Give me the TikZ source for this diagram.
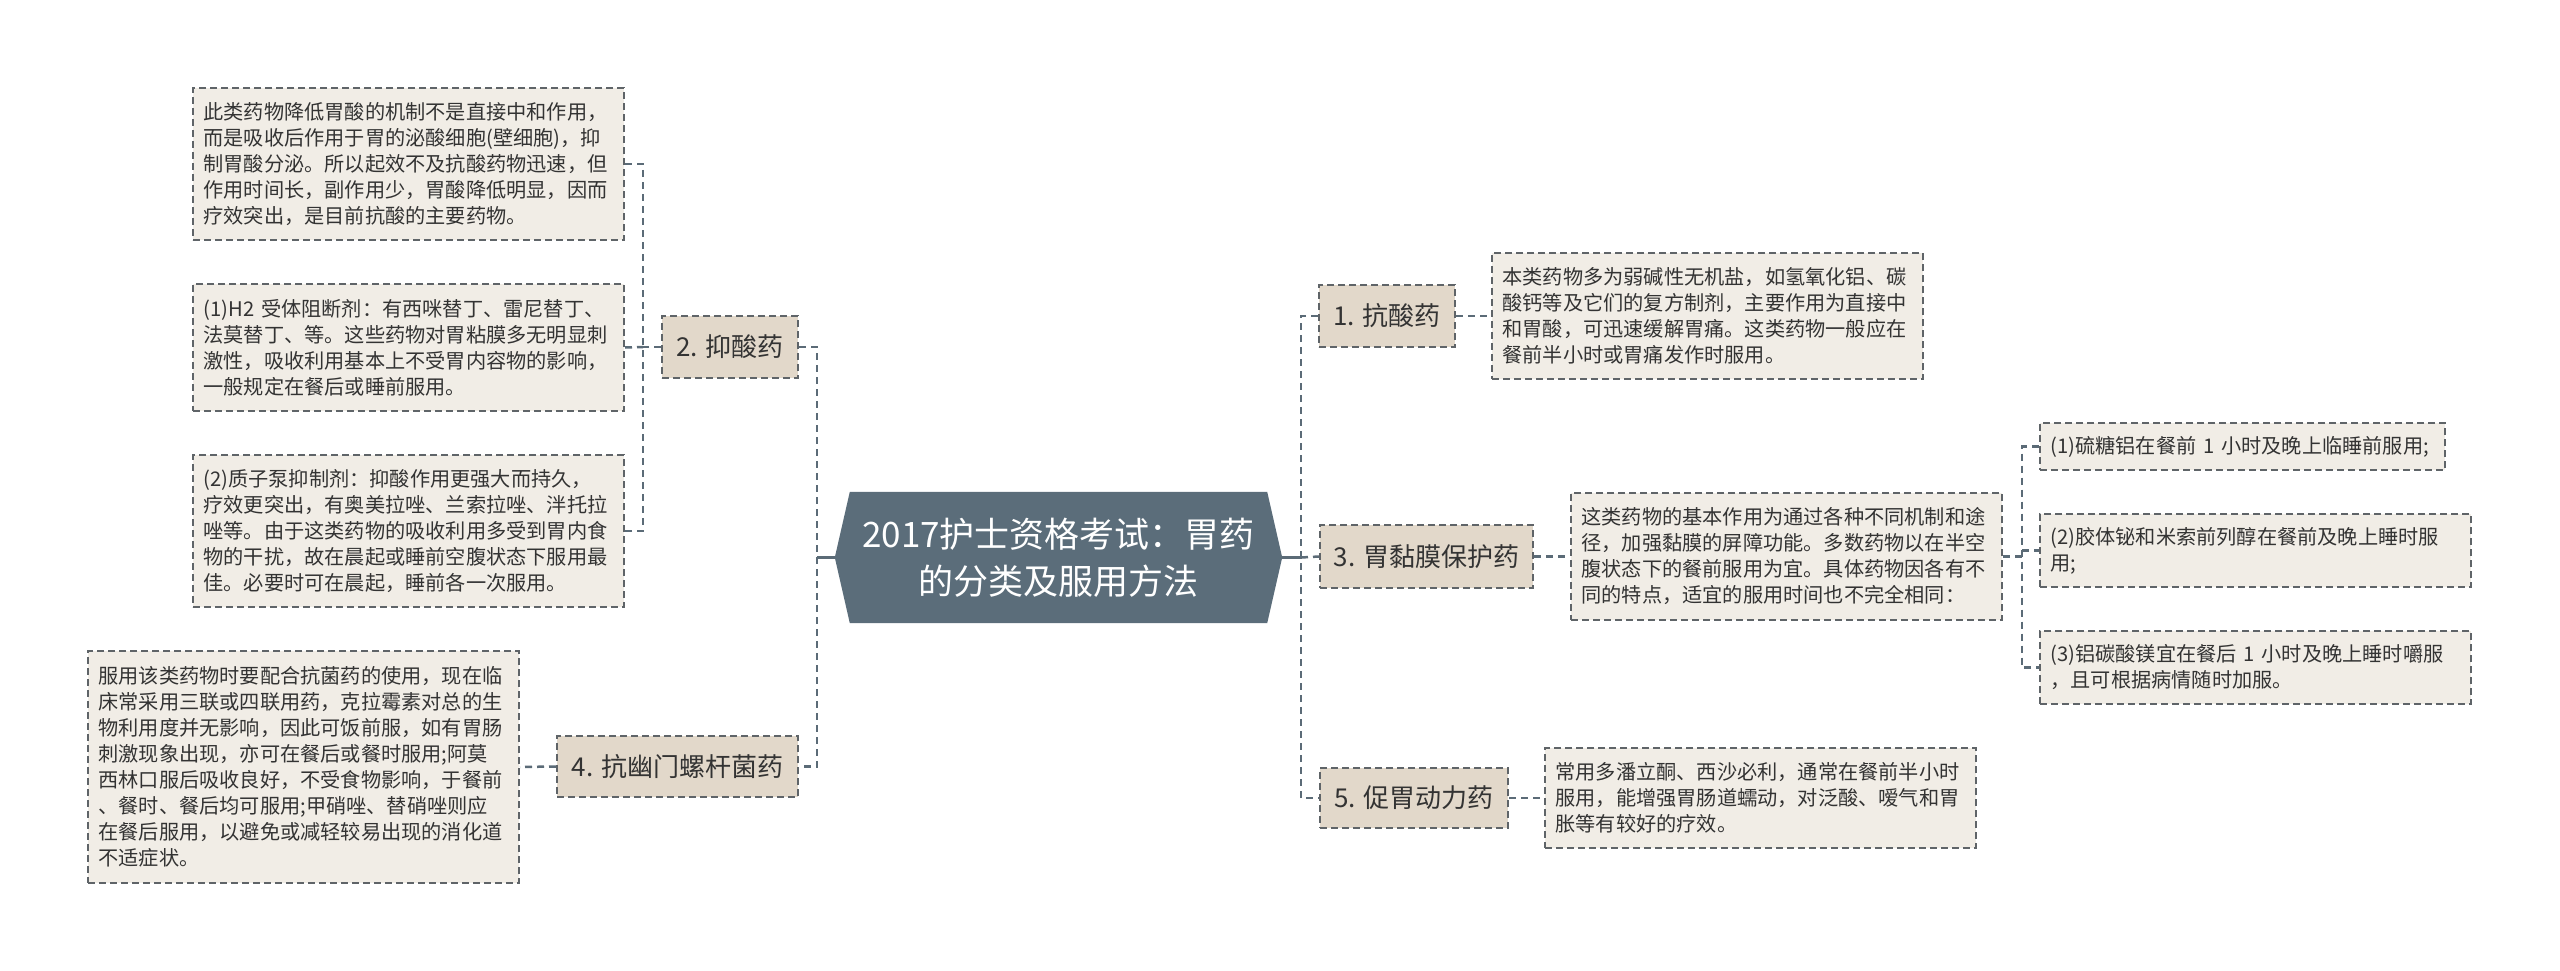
\documentclass[tikz,border=0pt]{standalone}
\usepackage{fontspec}
\setmainfont{Noto Sans CJK SC}
\usetikzlibrary{backgrounds}
\definecolor{hubfill}{HTML}{5B6D7A}
\definecolor{catfill}{HTML}{E2D8CA}
\definecolor{leaffill}{HTML}{F1EDE6}
\definecolor{bordercol}{HTML}{5F6468}
\definecolor{linkcol}{HTML}{5B6B77}
\definecolor{textcol}{HTML}{333333}
\begin{document}
\begin{tikzpicture}[x=1pt,y=-1pt,
  catbox/.style={draw=bordercol, fill=catfill, line width=2pt, dash pattern=on 7pt off 4pt,
    text=textcol, font=\fontsize{26}{32}\selectfont, inner sep=0pt},
  leafbox/.style={draw=bordercol, fill=leaffill, line width=2pt, dash pattern=on 7pt off 4pt,
    text=textcol, font=\fontsize{20.2}{26}\selectfont, align=left, inner xsep=10.5pt, inner ysep=0pt,
    text width=410pt},
  link/.style={draw=linkcol, line width=2.5pt, dash pattern=on 7pt off 5pt},
  hublink/.style={draw=linkcol, line width=3pt}]
\useasboundingbox (0,0) rectangle (2560,971);

% hub
\node[inner sep=0pt, minimum width=447pt, minimum height=131pt, align=center, text=white,
  font=\fontsize{35}{47}\selectfont] (hub) at (1058.5,557.5) {2017护士资格考试：胃药\\的分类及服用方法};
\begin{pgfonlayer}{background}
\fill[white] (0,0) rectangle (2560,971);
\fill[hubfill] (hub.west) -- ([xshift=15pt]hub.north west) -- ([xshift=-15pt]hub.north east)
  -- (hub.east) -- ([xshift=-15pt]hub.south east) -- ([xshift=15pt]hub.south west) -- cycle;
\end{pgfonlayer}

% categories
\node[catbox, minimum width=136pt, minimum height=62pt] (n1) at (1387,316) {1. 抗酸药};
\node[catbox, minimum width=136pt, minimum height=62pt] (n2) at (730,347) {2. 抑酸药};
\node[catbox, minimum width=213pt, minimum height=63pt] (n3) at (1426.5,556.5) {3. 胃黏膜保护药};
\node[catbox, minimum width=241pt, minimum height=61pt] (n4) at (677.5,766.5) {4. 抗幽门螺杆菌药};
\node[catbox, minimum width=188pt, minimum height=60pt] (n5) at (1414,798) {5. 促胃动力药};

% leaves of 2
\node[leafbox, minimum height=152pt] (A) at (408.5,164) {此类药物降低胃酸的机制不是直接中和作用，\\
而是吸收后作用于胃的泌酸细胞(壁细胞)，抑\\
制胃酸分泌。所以起效不及抗酸药物迅速，但\\
作用时间长，副作用少，胃酸降低明显，因而\\
疗效突出，是目前抗酸的主要药物。};
\node[leafbox, minimum height=127pt] (B) at (408.5,347.5) {(1)H2 受体阻断剂：有西咪替丁、雷尼替丁、\\
法莫替丁、等。这些药物对胃粘膜多无明显刺\\
激性，吸收利用基本上不受胃内容物的影响，\\
一般规定在餐后或睡前服用。};
\node[leafbox, minimum height=152pt] (C) at (408.5,531) {(2)质子泵抑制剂：抑酸作用更强大而持久，\\
疗效更突出，有奥美拉唑、兰索拉唑、泮托拉\\
唑等。由于这类药物的吸收利用多受到胃内食\\
物的干扰，故在晨起或睡前空腹状态下服用最\\
佳。必要时可在晨起，睡前各一次服用。};

% leaf of 4
\node[leafbox, minimum height=232pt] (D) at (303.5,767) {服用该类药物时要配合抗菌药的使用，现在临\\
床常采用三联或四联用药，克拉霉素对总的生\\
物利用度并无影响，因此可饭前服，如有胃肠\\
刺激现象出现，亦可在餐后或餐时服用;阿莫\\
西林口服后吸收良好，不受食物影响，于餐前\\
、餐时、餐后均可服用;甲硝唑、替硝唑则应\\
在餐后服用，以避免或减轻较易出现的消化道\\
不适症状。};

% leaf of 1
\node[leafbox, minimum height=126pt] (E) at (1707.5,316) {本类药物多为弱碱性无机盐，如氢氧化铝、碳\\
酸钙等及它们的复方制剂，主要作用为直接中\\
和胃酸，可迅速缓解胃痛。这类药物一般应在\\
餐前半小时或胃痛发作时服用。};

% leaf of 3
\node[leafbox, minimum height=127pt] (F) at (1786.5,556.5) {这类药物的基本作用为通过各种不同机制和途\\
径，加强黏膜的屏障功能。多数药物以在半空\\
腹状态下的餐前服用为宜。具体药物因各有不\\
同的特点，适宜的服用时间也不完全相同：};
\node[leafbox, text width=384pt, minimum height=47pt] (G) at (2242.5,446.5) {(1)硫糖铝在餐前 1 小时及晚上临睡前服用;};
\node[leafbox, minimum height=73pt] (H) at (2255.5,550.5) {(2)胶体铋和米索前列醇在餐前及晚上睡时服\\
用;};
\node[leafbox, minimum height=73pt] (I) at (2255.5,667.5) {(3)铝碳酸镁宜在餐后 1 小时及晚上睡时嚼服\\
，且可根据病情随时加服。};

% leaf of 5
\node[leafbox, minimum height=100pt] (J) at (1760.5,798) {常用多潘立酮、西沙必利，通常在餐前半小时\\
服用，能增强胃肠道蠕动，对泛酸、嗳气和胃\\
胀等有较好的疗效。};

% junctions
\coordinate (jl) at (817,557.5);
\coordinate (jr) at (1301,557.5);
\coordinate (j2) at (643,347);
\coordinate (j3) at (2022,556.5);

% connectors
\draw[hublink] (hub.west) -- (jl);
\draw[hublink] (hub.east) -- (jr);
\draw[link] (n2.east) -| (jl) |- (n4.east);
\draw[link] (n1.west) -| (jr) |- (n5.west);
\draw[link] (jr) -- (n3.west);
\draw[link] (n2.west) -- (j2);
\draw[link] (A.east) -| (j2) |- (C.east);
\draw[link] (B.east) -- (j2);
\draw[link] (n4.west) -- (D.east);
\draw[link] (n1.east) -- (E.west);
\draw[link] (n3.east) -- (F.west);
\draw[link] (n5.east) -- (J.west);
\draw[link] (F.east) -- (j3);
\draw[link] (G.west) -| (j3) |- (I.west);
\draw[link] (H.west -| j3) -- (H.west);
\end{tikzpicture}
\end{document}
